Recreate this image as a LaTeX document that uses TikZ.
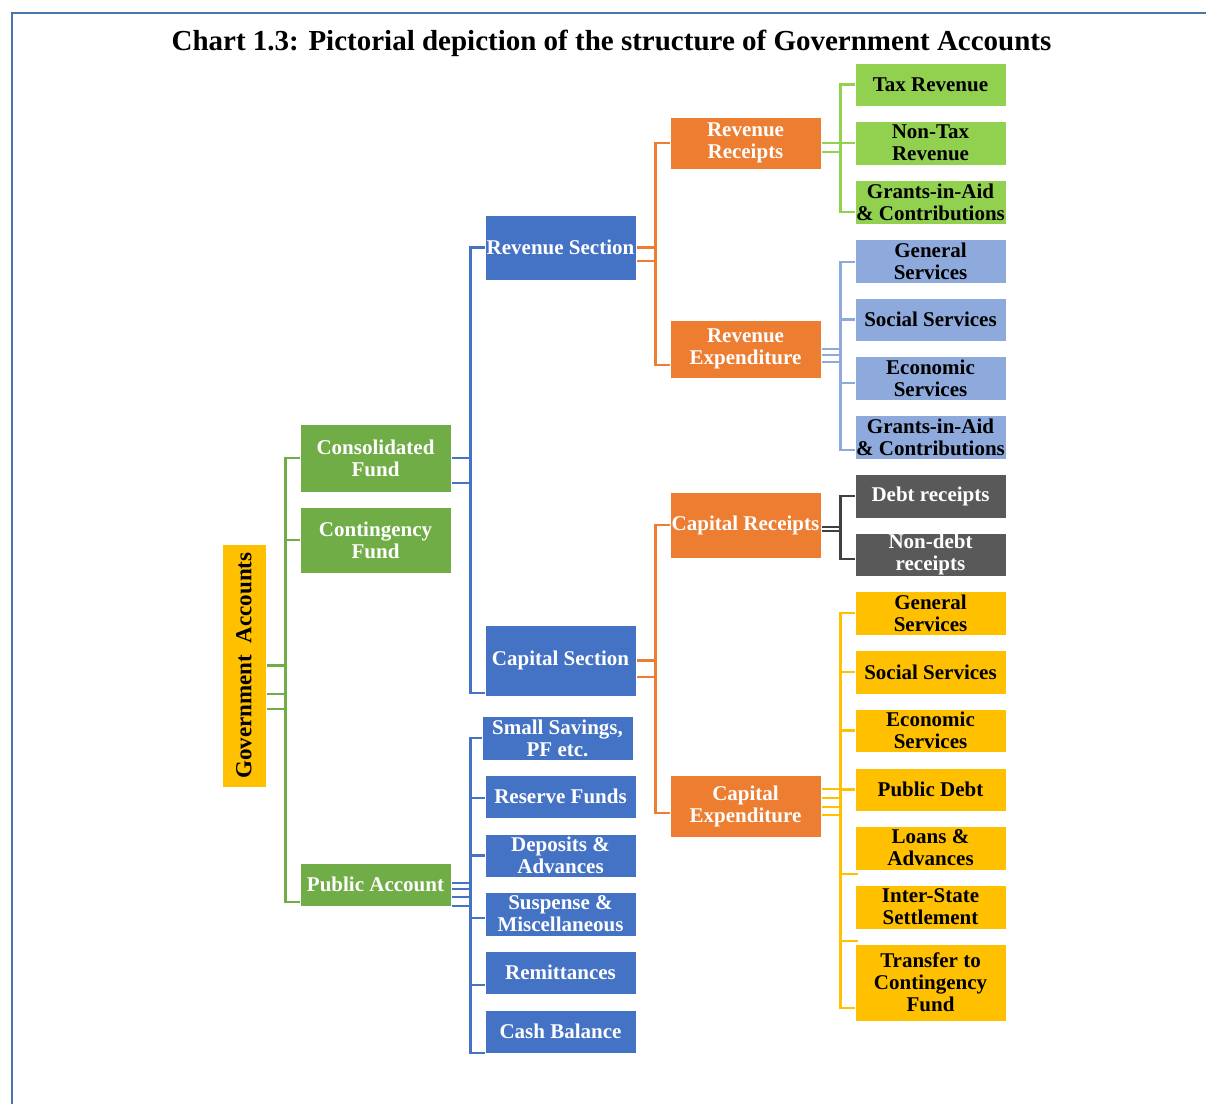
\documentclass[tikz,border=0pt]{standalone}
\usepackage{fontspec}
\usepackage{graphicx}
\setmainfont{Liberation Serif}
\usetikzlibrary{backgrounds}
\definecolor{cgreen}{HTML}{70AD47}
\definecolor{cblue}{HTML}{4472C4}
\definecolor{corange}{HTML}{ED7D31}
\definecolor{clgreen}{HTML}{92D050}
\definecolor{clblue}{HTML}{8EA9DB}
\definecolor{cgrey}{HTML}{595959}
\definecolor{cdgrey}{HTML}{404040}
\definecolor{cgold}{HTML}{FFC000}
\definecolor{cframe}{HTML}{4A75A8}
\begin{document}
\begin{tikzpicture}[x=1pt,y=-1pt,
  box/.style={draw=white, line width=0.8pt, inner sep=0pt, align=center,
    minimum width=151pt, font=\bfseries\fontsize{21}{22}\selectfont},
  wbox/.style={box, text=white},
  bbox/.style={box, text=black},
  conn/.style={line width=2.2pt}]
\useasboundingbox (0,0) rectangle (1206,1104);
\draw[cframe, line width=2pt] (1206,13) -- (12,13) -- (12,1104);
\node[anchor=base, font=\bfseries\fontsize{29}{32}\selectfont] (title) at (611.5,50)
  {Chart 1.3: Pictorial depiction of the structure of Government Accounts};

% level 0
\node[bbox, fill=cgold, minimum width=44pt, minimum height=243pt] (ga) at (244,665.5)
  {\rotatebox{90}{\fontsize{23}{24}\selectfont Government\ \ Accounts}};
% level 1
\node[wbox, fill=cgreen, minimum height=68pt] (cf) at (375.5,458) {Consolidated\\Fund};
\node[wbox, fill=cgreen, minimum height=66pt] (kf) at (375.5,540) {Contingency\\Fund};
\node[wbox, fill=cgreen, minimum height=43pt] (pa) at (375.5,884.5) {Public Account};
% level 2
\node[wbox, fill=cblue, minimum height=65pt] (rs) at (560.5,247.5) {Revenue Section};
\node[wbox, fill=cblue, minimum height=71pt] (cs) at (560.5,660.5) {Capital Section};
\node[wbox, fill=cblue, minimum height=44pt] (ss) at (557.5,738) {Small Savings,\\PF etc.};
\node[wbox, fill=cblue, minimum height=43pt] (rf) at (560.5,796.5) {Reserve Funds};
\node[wbox, fill=cblue, minimum height=43pt] (da) at (560.5,855.5) {Deposits \&\\Advances};
\node[wbox, fill=cblue, minimum height=44pt] (sm) at (560.5,914) {Suspense \&\\Miscellaneous};
\node[wbox, fill=cblue, minimum height=43pt] (rm) at (560.5,972.5) {Remittances};
\node[wbox, fill=cblue, minimum height=43pt] (cb) at (560.5,1031.5) {Cash Balance};
% level 3
\node[wbox, fill=corange, minimum height=52pt] (rr) at (745.5,143) {Revenue\\Receipts};
\node[wbox, fill=corange, minimum height=58pt] (re) at (745.5,349) {Revenue\\Expenditure};
\node[wbox, fill=corange, minimum height=66pt] (cr) at (745.5,525) {Capital Receipts};
\node[wbox, fill=corange, minimum height=62pt] (ce) at (745.5,806) {Capital\\Expenditure};
% level 4
\node[bbox, fill=clgreen, minimum height=43pt] (tr) at (930.5,84.5) {Tax Revenue};
\node[bbox, fill=clgreen, minimum height=44pt] (nt) at (930.5,143) {Non-Tax\\Revenue};
\node[bbox, fill=clgreen, minimum height=44pt] (g1) at (930.5,202) {Grants-in-Aid\\\& Contributions};
\node[bbox, fill=clblue, minimum height=44pt] (gs1) at (930.5,261) {General\\Services};
\node[bbox, fill=clblue, minimum height=43pt] (so1) at (930.5,319.5) {Social Services};
\node[bbox, fill=clblue, minimum height=44pt] (ec1) at (930.5,378) {Economic\\Services};
\node[bbox, fill=clblue, minimum height=44pt] (g2) at (930.5,437) {Grants-in-Aid\\\& Contributions};
\node[wbox, fill=cgrey, minimum height=44pt] (dr) at (930.5,496) {Debt receipts};
\node[wbox, fill=cgrey, minimum height=43pt] (nd) at (930.5,554.5) {Non-debt\\receipts};
\node[bbox, fill=cgold, minimum height=44pt] (gs2) at (930.5,613) {General\\Services};
\node[bbox, fill=cgold, minimum height=44pt] (so2) at (930.5,672) {Social Services};
\node[bbox, fill=cgold, minimum height=43pt] (ec2) at (930.5,730.5) {Economic\\Services};
\node[bbox, fill=cgold, minimum height=43pt] (pd) at (930.5,789.5) {Public Debt};
\node[bbox, fill=cgold, minimum height=44pt] (la) at (930.5,848) {Loans \&\\Advances};
\node[bbox, fill=cgold, minimum height=44pt] (is) at (930.5,907) {Inter-State\\Settlement};
\node[bbox, fill=cgold, minimum height=77pt] (tc) at (930.5,982.5) {Transfer to\\Contingency\\Fund};

\begin{scope}[on background layer]
% Government Accounts
\draw[conn, cgreen] ([yshift=-43.5pt]ga.east) -- ++(19,0) |- (cf.west);
\draw[conn, cgreen] ([yshift=-28.5pt]ga.east) -- ++(19,0) |- (kf.west);
\draw[conn, cgreen] (ga.east) -- ++(19,0) |- ([yshift=-17.5pt]pa.west);
% Consolidated Fund
\draw[conn, cblue] ([yshift=-25pt]cf.east) -- ++(19,0) |- (rs.west);
\draw[conn, cblue] (cf.east) -- ++(19,0) |- ([yshift=-32.5pt]cs.west);
% Public Account
\draw[conn, cblue] ([yshift=-21.5pt]pa.east) -- ++(19,0) |- ([xshift=3pt]ss.west);
\draw[conn, cblue] ([yshift=-12.5pt]pa.east) -- ++(19,0) |- ([yshift=-1.5pt]rf.west);
\draw[conn, cblue] ([yshift=-4.5pt]pa.east) -- ++(19,0) |- (da.west);
\draw[conn, cblue] ([yshift=-4.5pt]pa.east) -- ++(19,0) |- ([yshift=-4pt]sm.west);
\draw[conn, cblue] ([yshift=1.5pt]pa.east) -- ++(19,0) |- ([yshift=-12.5pt]rm.west);
\draw[conn, cblue] ([yshift=1.5pt]pa.east) -- ++(19,0) |- ([yshift=-21.5pt]cb.west);
% Revenue Section
\draw[conn, corange] ([yshift=-13.5pt]rs.east) -- ++(19,0) |- (rr.west);
\draw[conn, corange] (rs.east) -- ++(19,0) |- ([yshift=-16pt]re.west);
% Capital Section
\draw[conn, corange] ([yshift=-16.5pt]cs.east) -- ++(19,0) |- (cr.west);
\draw[conn, corange] (cs.east) -- ++(19,0) |- ([yshift=-7pt]ce.west);
% Revenue Receipts
\draw[conn, clgreen] ([yshift=-9pt]rr.east) -- ++(19,0) |- (tr.west);
\draw[conn, clgreen] (rr.east) -- ++(19,0) |- (nt.west);
\draw[conn, clgreen] (rr.east) -- ++(19,0) |- ([yshift=-10pt]g1.west);
% Revenue Expenditure
\draw[conn, clblue] ([yshift=-13pt]re.east) -- ++(19,0) |- ([yshift=-1pt]gs1.west);
\draw[conn, clblue] ([yshift=-6pt]re.east) -- ++(19,0) |- (so1.west);
\draw[conn, clblue] (re.east) -- ++(19,0) |- ([yshift=-5pt]ec1.west);
\draw[conn, clblue] (re.east) -- ++(19,0) |- ([yshift=-13pt]g2.west);
% Capital Receipts
\draw[conn, cdgrey] ([yshift=-6pt]cr.east) -- ++(19,0) |- (dr.west);
\draw[conn, cdgrey] ([yshift=-2pt]cr.east) -- ++(19,0) |- ([yshift=-4.5pt]nd.west);
% Capital Expenditure
\draw[conn, cgold] ([yshift=-9pt]ce.east) -- ++(19,0) |- (gs2.west);
\draw[conn, cgold] ([yshift=-1pt]ce.east) -- ++(19,0) |- (so2.west);
\draw[conn, cgold] ([yshift=8pt]ce.east) -- ++(19,0) |- (ec2.west);
\draw[conn, cgold] ([yshift=8pt]ce.east) -- ++(19,0) |- (pd.west);
\draw[conn, cgold] ([yshift=17pt]ce.east) -- ++(19,0) |- ([xshift=3pt,yshift=-26pt]la.west);
\draw[conn, cgold] ([yshift=17pt]ce.east) -- ++(19,0) |- ([xshift=3pt,yshift=-34pt]is.west);
\draw[conn, cgold] ([yshift=17pt]ce.east) -- ++(19,0) |- ([yshift=-25.5pt]tc.west);
\end{scope}
\end{tikzpicture}
\end{document}
